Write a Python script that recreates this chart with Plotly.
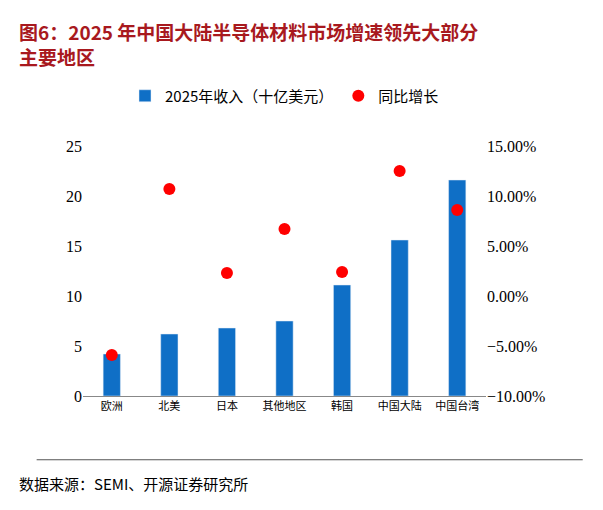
import plotly.graph_objects as go

categories = ["欧洲", "北美", "日本", "其他地区", "韩国", "中国大陆", "中国台湾"]
revenue = [4.2, 6.2, 6.8, 7.5, 11.1, 15.6, 21.6]
growth = [-5.9, 10.7, 2.3, 6.7, 2.4, 12.5, 8.6]

font = "Noto Sans CJK SC"
fig = go.Figure()
fig.add_trace(go.Bar(x=categories, y=revenue, name="2025年收入（十亿美元）",
                     marker_color="#0F6FC6", width=0.3, yaxis="y"))
fig.add_trace(go.Scatter(x=categories, y=growth, name="同比增长", mode="markers",
                         marker=dict(color="#FF0000", size=12), yaxis="y2"))
fig.update_layout(
    width=603, height=510, plot_bgcolor="white", paper_bgcolor="white",
    margin=dict(l=75, r=125, t=138, b=122),
    font=dict(family=font, color="black"),
    legend=dict(orientation="h", x=0.5, xanchor="center", y=1.2, yanchor="middle",
                font=dict(size=15), bgcolor="rgba(0,0,0,0)"),
    xaxis=dict(showline=True, linecolor="#888", tickfont=dict(size=11), ticks=""),
    yaxis=dict(range=[0, 25], dtick=5, showgrid=False, showline=False,
               tickfont=dict(size=16, family="Liberation Serif"), ticks=""),
    yaxis2=dict(range=[-10, 15], dtick=5, overlaying="y", side="right", showgrid=False,
                tickformat=".2f", ticksuffix="%", tickfont=dict(size=16, family="Liberation Serif")),
    annotations=[
        dict(text="<b>图6：2025 年中国大陆半导体材料市场增速领先大部分<br>主要地区</b>", x=0, y=1,
             xref="paper", yref="paper", xanchor="left", yanchor="top", showarrow=False, align="left",
             font=dict(size=19, color="#A8191E", family=font), xshift=-66, yshift=130),
        dict(text="数据来源：SEMI、开源证券研究所", xref="paper", yref="paper", x=0, y=0,
             xanchor="left", yanchor="top", showarrow=False, xshift=-66, yshift=-75,
             font=dict(size=15, family=font)),
    ],
    shapes=[dict(type="line", xref="paper", yref="paper", x0=-0.115, x1=1.24, y0=-0.255, y1=-0.255,
                 line=dict(color="#555", width=1))],
)
fig.write_html("out.html")
